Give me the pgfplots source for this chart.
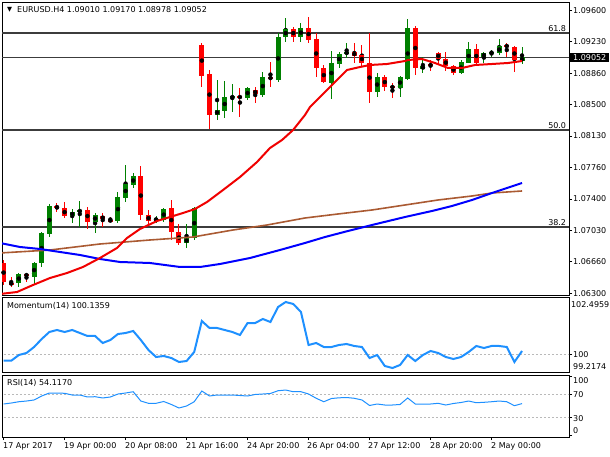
\documentclass[border=0pt]{standalone}
\usepackage{fontspec}
\setmainfont{DejaVu Sans}
\usepackage{pgfplots}
\usepackage{pgfplotstable}
\pgfplotsset{compat=1.18}
\definecolor{bull}{RGB}{0,128,0}
\definecolor{bear}{RGB}{255,0,0}
\definecolor{maRed}{RGB}{240,0,0}
\definecolor{maBlue}{RGB}{0,0,255}
\definecolor{maBrown}{RGB}{170,90,50}
\definecolor{ind}{RGB}{30,144,255}
\definecolor{lvl}{RGB}{60,60,60}
\newcommand{\sz}{\fontsize{8bp}{9.6bp}\selectfont}

\pgfplotstableread{
i o h l c
0 1.066527 1.066877 1.063961 1.064311
1 1.064195 1.064894 1.063728 1.064078
3 1.065244 1.065361 1.064311 1.065011
7 1.073175 1.073525 1.072475 1.072942
8 1.072942 1.073642 1.071776 1.072009
11 1.072709 1.073059 1.070493 1.071309
13 1.072009 1.072359 1.070726 1.071659
14 1.071542 1.071892 1.071309 1.071426
18 1.076674 1.077840 1.071542 1.072126
19 1.072126 1.072709 1.071076 1.071426
22 1.072942 1.073875 1.069210 1.070143
23 1.070143 1.071076 1.068627 1.068860
26 1.091953 1.092186 1.087054 1.088337
27 1.088570 1.089037 1.082156 1.083789
31 1.086005 1.086938 1.083555 1.085771
33 1.086704 1.087054 1.085188 1.086238
35 1.088220 1.089970 1.087054 1.087987
38 1.093819 1.094052 1.092303 1.092886
40 1.093935 1.095218 1.092186 1.092536
41 1.092652 1.093352 1.088220 1.089270
42 1.089270 1.089620 1.087521 1.087637
46 1.091136 1.092186 1.089853 1.090670
47 1.090786 1.091953 1.089503 1.089853
48 1.089853 1.093352 1.085188 1.086471
50 1.088220 1.088454 1.086588 1.087054
51 1.087171 1.087521 1.085771 1.086938
54 1.093935 1.094169 1.088454 1.089270
56 1.089737 1.090203 1.088920 1.089503
57 1.091020 1.091136 1.089620 1.090320
58 1.090320 1.091136 1.088920 1.089503
59 1.089503 1.089620 1.088454 1.088687
62 1.091486 1.092069 1.089737 1.089853
66 1.091953 1.092186 1.090553 1.091719
67 1.091719 1.091836 1.088804 1.090203
}\bearT

\pgfplotstableread{
i o h l c
2 1.064195 1.065361 1.063728 1.065244
4 1.064894 1.066644 1.063961 1.066527
5 1.066527 1.070143 1.066061 1.070026
6 1.069910 1.073408 1.069560 1.073175
9 1.072009 1.072825 1.071193 1.072475
10 1.072475 1.073758 1.070726 1.072709
12 1.071309 1.072359 1.070026 1.072126
15 1.071426 1.074808 1.071193 1.074225
16 1.074108 1.077957 1.073642 1.075741
17 1.075624 1.077024 1.075275 1.076674
20 1.071542 1.072009 1.071193 1.071620
21 1.071542 1.072942 1.071309 1.072825
24 1.068860 1.071076 1.068277 1.069443
25 1.069443 1.073059 1.069210 1.072942
28 1.083789 1.087871 1.083205 1.084372
29 1.084255 1.087754 1.083439 1.085888
30 1.085771 1.087404 1.084138 1.086005
32 1.085771 1.087054 1.085538 1.086938
34 1.086121 1.088804 1.085888 1.088220
36 1.087871 1.093352 1.087637 1.092886
37 1.092886 1.095102 1.092303 1.093819
39 1.092886 1.094519 1.092303 1.093935
43 1.087521 1.091253 1.085655 1.089853
44 1.089737 1.091136 1.089270 1.090903
45 1.090903 1.092186 1.090436 1.091136
49 1.086471 1.088687 1.085888 1.088220
52 1.086938 1.088337 1.085888 1.088220
53 1.087987 1.094985 1.087871 1.093935
55 1.089154 1.090553 1.088687 1.089503
60 1.088687 1.090203 1.088570 1.089970
61 1.089853 1.092303 1.089853 1.091486
63 1.090553 1.091136 1.089853 1.091020
64 1.091020 1.091369 1.090553 1.091136
65 1.091020 1.092652 1.090786 1.091836
68 1.09010 1.09170 1.08978 1.09052
}\bullT

\pgfplotstableread{
i p
-0.47 1.062912
1.76 1.063145
3.86 1.063961
6.09 1.064778
8.32 1.065361
10.41 1.066061
12.64 1.067110
14.87 1.068277
16.19 1.069443
17.89 1.070493
20.12 1.071426
21.83 1.071892
23.53 1.072359
25.10 1.072825
26.68 1.073642
28.78 1.075041
31.01 1.076557
33.24 1.078307
34.94 1.079940
36.52 1.080873
37.97 1.082039
39.53 1.083789
40.19 1.084722
42.55 1.086821
45.04 1.089037
46.75 1.089387
48.06 1.089620
50.29 1.089737
52.65 1.090087
53.04 1.090203
54.88 1.090320
56.58 1.089853
58.29 1.089270
60.13 1.089270
61.83 1.089620
64.06 1.089737
66.16 1.089853
68.0 1.090087
}\maR

\pgfplotstableread{
i p
-0.47 1.068860
2.15 1.068393
4.77 1.068160
7.40 1.067810
10.02 1.067460
12.64 1.066994
15.27 1.066644
19.20 1.066527
23.14 1.066061
25.76 1.066061
28.38 1.066411
32.32 1.067110
36.25 1.068043
39.53 1.068860
42.16 1.069560
45.17 1.070259
48.32 1.070959
52.65 1.071892
56.19 1.072592
58.81 1.073175
61.44 1.073875
64.06 1.074691
68.0 1.075858
}\maB

\pgfplotstableread{
i p
-0.47 1.067694
6.09 1.068043
12.64 1.068743
19.20 1.069210
24.84 1.069560
30.09 1.070376
34.55 1.070959
39.53 1.071776
43.86 1.072242
48.32 1.072709
52.65 1.073292
56.98 1.073875
61.44 1.074342
64.06 1.074691
68.0 1.074925
}\maS

\pgfplotstableread{
i v r
0 99.711 53.4
1 99.711 55.1
2 99.960 57.3
3 100.048 58.5
4 100.310 60.3
5 100.660 67.1
6 100.966 72.2
7 101.053 72.2
8 100.966 71.7
9 101.053 68.8
10 100.922 68.8
11 100.791 65.4
12 100.791 65.9
13 100.485 63.7
14 100.616 65.4
15 100.878 70.5
16 100.922 72.2
17 101.010 74.4
18 100.616 58.5
19 100.179 54.6
20 99.873 54.6
21 99.917 57.7
22 99.829 52.6
23 99.655 46.6
24 99.698 50.0
25 100.092 57.3
26 101.447 75.6
27 101.141 67.1
28 101.141 68.8
29 101.053 68.8
30 100.966 68.8
31 100.835 67.9
32 101.359 67.1
33 101.359 69.7
34 101.534 70.5
35 101.403 71.4
36 102.059 76.1
37 102.277 77.3
38 102.190 74.4
39 101.840 74.4
40 100.398 70.5
41 100.485 63.2
42 100.310 57.3
43 100.310 62.8
44 100.398 64.0
45 100.441 64.5
46 100.354 63.2
47 100.310 60.3
48 99.829 50.9
49 99.960 53.4
50 99.480 51.7
51 99.392 51.7
52 99.523 52.6
53 99.960 63.7
54 99.698 53.4
55 99.960 53.4
56 100.136 53.4
57 100.048 54.6
58 99.873 51.7
59 99.786 54.3
60 99.873 56.0
61 100.092 58.5
62 100.354 55.6
63 100.266 56.3
64 100.354 57.3
65 100.354 58.5
66 100.310 57.3
67 99.655 50.5
68 100.1359 54.117
}\indT

\pgfplotsset{
  mt/.style={scale only axis, width=567bp, anchor=north west,
    axis line style={black, line width=0.8bp},
    xmin=-0.21, xmax=74.16, xtick=\empty,
    ytick pos=right, yticklabel pos=right, ytick align=outside,
    major tick length=3bp, tick style={black, line width=0.6bp},
    tick label style={font=\sz},
    clip mode=individual},
  wick/.style={only marks, mark=none, error bars/.cd, y dir=both, y explicit,
    error mark=none, error bar style={line width=1bp, #1}},
  body/.style={only marks, mark=none, error bars/.cd, y dir=both, y explicit,
    error mark=none, error bar style={line width=5bp, #1}},
}

\begin{document}
\begin{tikzpicture}
\path[use as bounding box] (0,0) rectangle (610bp,457bp);

% main price panel
\begin{axis}[mt, at={(2bp,455bp)}, height=293bp,
  ymin=1.062795, ymax=1.096968,
  ytick={1.063,1.066667,1.070333,1.074,1.077667,1.081333,1.085,1.088667,1.092333,1.096},
  yticklabels={1.06300,1.06660,1.07030,1.07400,1.07760,1.08130,1.08500,1.08860,1.09230,1.09600},
  yticklabel style={anchor=west, inner sep=0pt, xshift=1bp}]
\addplot[lvl, line width=1.3bp] coordinates {(-1,1.093352) (80,1.093352)};
\addplot[lvl, line width=1.3bp] coordinates {(-1,1.082039) (80,1.082039)};
\addplot[lvl, line width=1.3bp] coordinates {(-1,1.070726) (80,1.070726)};
\addplot[lvl, line width=1.3bp] coordinates {(-1,1.09052) (80,1.09052)};
\node[anchor=south east, inner sep=1.5bp, font=\sz] at (axis cs:74.0,1.093352) {61.8};
\node[anchor=south east, inner sep=1.5bp, font=\sz] at (axis cs:74.0,1.082039) {50.0};
\node[anchor=south east, inner sep=1.5bp, font=\sz] at (axis cs:74.0,1.070726) {38.2};

\addplot[wick=bear] table[x=i, y expr={(\thisrow{h}+\thisrow{l})/2}, y error expr={(\thisrow{h}-\thisrow{l})/2}] {\bearT};
\addplot[body=bear] table[x=i, y expr={(\thisrow{o}+\thisrow{c})/2}, y error expr={(\thisrow{o}-\thisrow{c})/2}] {\bearT};
\addplot[wick=bull] table[x=i, y expr={(\thisrow{h}+\thisrow{l})/2}, y error expr={(\thisrow{h}-\thisrow{l})/2}] {\bullT};
\addplot[body=bull] table[x=i, y expr={(\thisrow{o}+\thisrow{c})/2}, y error expr={(\thisrow{c}-\thisrow{o})/2}] {\bullT};

\addplot[maBrown, line width=1.6bp] table[x=i, y=p] {\maS};
\addplot[maBlue, line width=2bp] table[x=i, y=p] {\maB};
\addplot[maRed, line width=2bp] table[x=i, y=p] {\maR};

\node[fill=black, text=white, anchor=west, inner xsep=3bp, inner ysep=1.5bp, font=\sz, xshift=1bp] at (axis cs:74.16,1.09052) {1.09052};
\end{axis}

% momentum panel
\begin{axis}[mt, at={(2bp,160bp)}, height=75bp,
  ymin=99.2174, ymax=102.4959, ytick={100}, yticklabel={\relax}]
\addplot[gray!55, line width=0.6bp, dash pattern=on 2bp off 2bp] coordinates {(-1,100) (80,100)};
\addplot[ind, line width=2bp] table[x=i, y=v] {\indT};
\end{axis}

% RSI panel
\begin{axis}[mt, at={(2bp,82bp)}, height=62bp,
  ymin=-3, ymax=103, ytick={0,30,70,100}, yticklabel={\relax},
  xtick={0,8,16,24,32,40,48,56,64}, xticklabel={\relax}, xtick pos=left, xtick align=outside]
\addplot[gray!55, line width=0.6bp, dash pattern=on 2bp off 2bp] coordinates {(-1,70) (80,70)};
\addplot[gray!55, line width=0.6bp, dash pattern=on 2bp off 2bp] coordinates {(-1,30) (80,30)};
\addplot[ind, line width=1bp] table[x=i, y=r] {\indT};
\end{axis}

% texts
\node[anchor=center, inner sep=0pt, font=\fontsize{6.5bp}{7bp}\selectfont] at (9.5bp,447bp) {▼};
\node[anchor=west, inner sep=0pt, font=\sz] at (17bp,447bp) {EURUSD.H4 1.09010 1.09170 1.08978 1.09052};
\node[anchor=west, inner sep=0pt, font=\sz] at (7bp,151bp) {Momentum(14) 100.1359};
\node[anchor=west, inner sep=0pt, font=\sz] at (7bp,74bp) {RSI(14) 54.1170};

\node[anchor=east, inner sep=0pt, font=\sz] at (609.5bp,152bp) {102.4959};
\node[anchor=west, inner sep=0pt, font=\sz] at (573bp,102bp) {100};
\node[anchor=west, inner sep=0pt, font=\sz] at (573bp,90bp) {99.2174};

\node[anchor=west, inner sep=0pt, font=\sz] at (573bp,76bp) {100};
\node[anchor=west, inner sep=0pt, font=\sz] at (573bp,62.7bp) {70};
\node[anchor=west, inner sep=0pt, font=\sz] at (573bp,38.7bp) {30};
\node[anchor=west, inner sep=0pt, font=\sz] at (573bp,26.3bp) {0};

\foreach \xx/\tt in {3/17 Apr 2017, 64/19 Apr 00:00, 125/20 Apr 08:00, 186/21 Apr 16:00, 247/24 Apr 20:00, 307/26 Apr 04:00, 368/27 Apr 12:00, 430/28 Apr 20:00, 491/2 May 00:00}
  \node[anchor=west, inner sep=0pt, font=\sz] at (\xx bp,11bp) {\tt};
\end{tikzpicture}
\end{document}
